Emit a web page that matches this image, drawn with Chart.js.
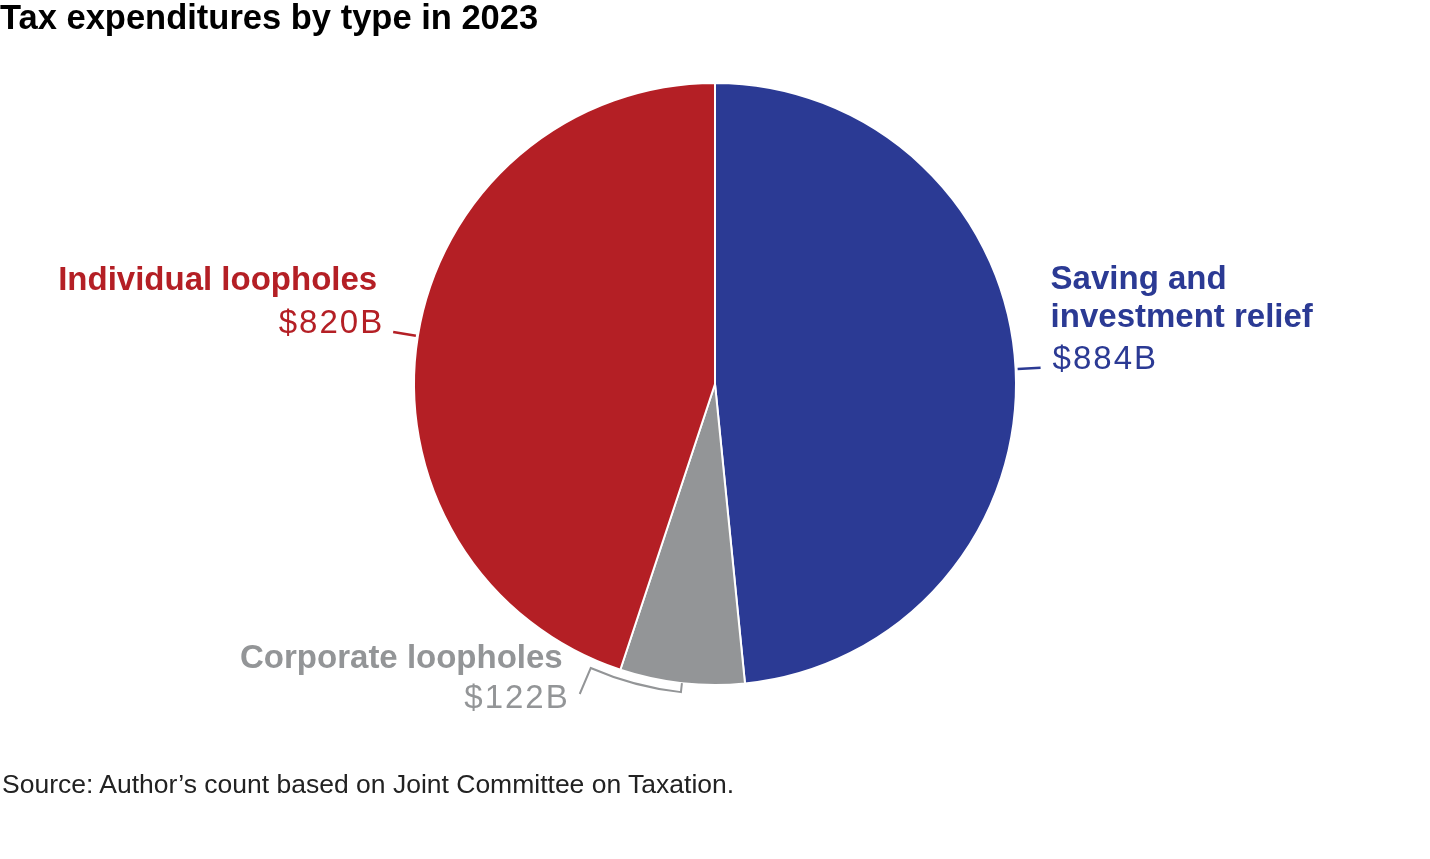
<!DOCTYPE html>
<html>
<head>
<meta charset="utf-8">
<script src="https://cdn.jsdelivr.net/npm/chart.js@4"></script>
<style>
  html, body { margin: 0; padding: 0; background: #fff; }
  #wrap { position: relative; width: 1430px; height: 859px; }
  #title { position: absolute; left: 0; top: -2px; font: bold 34.5px "Liberation Sans", Arial, sans-serif; color: #000; }
  #source { position: absolute; left: 2px; top: 769px; font: 26.5px "Liberation Sans Narrow", "Liberation Sans", sans-serif; color: #222; }
  canvas { position: absolute; left: 0; top: 0; }
</style>
</head>
<body>
<div id="wrap">
  <canvas id="pie" width="1430" height="859"></canvas>
  <div id="title">Tax expenditures by type in 2023</div>
  <div id="source">Source: Author’s count based on Joint Committee on Taxation.</div>
</div>
<script>
const categories = ['Saving and investment relief', 'Corporate loopholes', 'Individual loopholes'];
const values = [884, 122, 820];
const nameLines = [['Saving and', 'investment relief'], ['Corporate loopholes'], ['Individual loopholes']];
const valueLabels = ['$884B', '$122B', '$820B'];
const colors = ['#2B3A94', '#939597', '#B41F25'];

const nameFont = 'bold 33px "Liberation Sans", Arial, sans-serif';
const valueFont = '33px "Liberation Sans", Arial, sans-serif';

// Etiquetas con líneas guía, dibujadas a partir de la geometría de cada arco
const labelPlugin = {
  id: 'pieLabels',
  afterDatasetsDraw(chart) {
    const ctx = chart.ctx;
    const arcs = chart.getDatasetMeta(0).data;
    ctx.save();
    ctx.lineWidth = 2.5;
    ctx.textBaseline = 'alphabetic';

    const drawValue = (text, x, y, align) => {
      ctx.font = valueFont;
      ctx.letterSpacing = '2px';
      ctx.textAlign = align;
      ctx.fillText(text, align === 'right' ? x + 2 : x, y);
      ctx.letterSpacing = '0px';
    };

    // Saving (derecha)
    let a = arcs[0];
    let mid = (a.startAngle + a.endAngle) / 2;
    let r0 = a.outerRadius + 2, r1 = a.outerRadius + 25;
    ctx.strokeStyle = colors[0];
    ctx.beginPath();
    ctx.moveTo(a.x + Math.cos(mid) * r0, a.y + Math.sin(mid) * r0);
    ctx.lineTo(a.x + Math.cos(mid) * r1, a.y + Math.sin(mid) * r1);
    ctx.stroke();
    let ex = a.x + Math.cos(mid) * r1, ey = a.y + Math.sin(mid) * r1;
    ctx.fillStyle = colors[0];
    ctx.textAlign = 'left';
    ctx.font = nameFont;
    ctx.fillText(nameLines[0][0], ex + 10, ey - 79);
    ctx.fillText(nameLines[0][1], ex + 10, ey - 41);
    drawValue(valueLabels[0], ex + 12, ey + 1, 'left');

    // Individual (izquierda)
    a = arcs[2];
    mid = (a.startAngle + a.endAngle) / 2;
    ctx.strokeStyle = colors[2];
    ctx.beginPath();
    ctx.moveTo(a.x + Math.cos(mid) * r0, a.y + Math.sin(mid) * r0);
    ctx.lineTo(a.x + Math.cos(mid) * r1, a.y + Math.sin(mid) * r1);
    ctx.stroke();
    ex = a.x + Math.cos(mid) * r1; ey = a.y + Math.sin(mid) * r1;
    ctx.fillStyle = colors[2];
    ctx.textAlign = 'right';
    ctx.font = nameFont;
    ctx.fillText(nameLines[2][0], ex - 16, ey - 42);
    drawValue(valueLabels[2], ex - 11, ey + 1, 'right');

    // Corporate (abajo): corchete curvo fuera del arco
    a = arcs[1];
    mid = (a.startAngle + a.endAngle) / 2;
    const endA = a.endAngle + 5.3 * Math.PI / 180;
    const rb = a.outerRadius + 9;
    ctx.strokeStyle = colors[1];
    ctx.lineWidth = 2;
    ctx.beginPath();
    ctx.moveTo(a.x + Math.cos(mid) * a.outerRadius, a.y + Math.sin(mid) * a.outerRadius);
    ctx.lineTo(a.x + Math.cos(mid) * rb, a.y + Math.sin(mid) * rb);
    ctx.arc(a.x, a.y, rb, mid, endA);
    const bx = a.x + Math.cos(endA) * rb, by = a.y + Math.sin(endA) * rb;
    ctx.lineTo(bx - 11, by + 26);
    ctx.stroke();
    ctx.fillStyle = colors[1];
    ctx.textAlign = 'right';
    ctx.font = nameFont;
    ctx.fillText(nameLines[1][0], bx - 28, by + 0);
    drawValue(valueLabels[1], bx - 23, by + 40, 'right');

    ctx.restore();
  }
};

new Chart(document.getElementById('pie'), {
  type: 'pie',
  data: {
    labels: categories,
    datasets: [{
      data: values,
      backgroundColor: colors,
      borderColor: '#ffffff',
      borderWidth: 2,
    }],
  },
  options: {
    responsive: false,
    animation: false,
    layout: { padding: { top: 82, bottom: 173, left: 0, right: 0 } },
    plugins: {
      legend: { display: false },
      tooltip: { enabled: false },
    },
  },
  plugins: [labelPlugin],
});
</script>
</body>
</html>
